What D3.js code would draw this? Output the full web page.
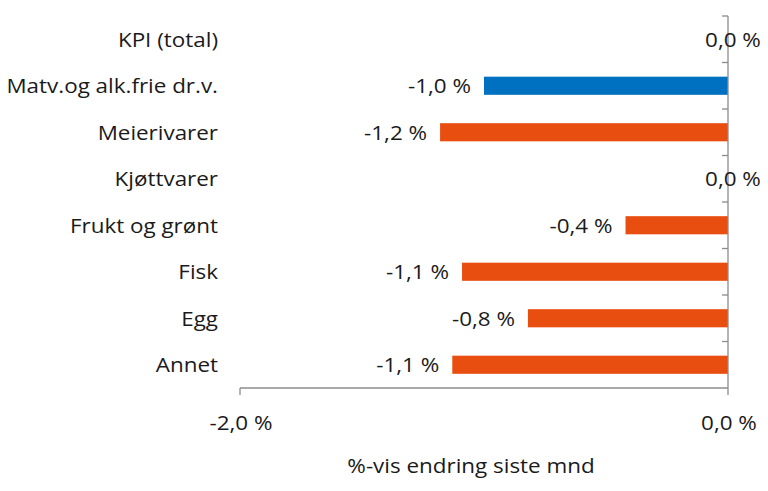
<!DOCTYPE html>
<html><head><meta charset="utf-8">
<script src="https://cdn.jsdelivr.net/npm/d3@7"></script>
<style>body{margin:0;background:#fff}svg{display:block}text{font-family:"Open Sans",sans-serif;fill:#1a1a1a}</style>
</head><body><div id="c"></div>
<script>
const categories = ["KPI (total)","Matv.og alk.frie dr.v.","Meierivarer","Kjøttvarer","Frukt og grønt","Fisk","Egg","Annet"];
const values = [0.0,-1.0,-1.18,0.0,-0.42,-1.09,-0.82,-1.13];
const valueLabels = ["0,0 %","-1,0 %","-1,2 %","0,0 %","-0,4 %","-1,1 %","-0,8 %","-1,1 %"];
const highlight = [false,true,false,false,false,false,false,false];
const xTicks = [-2,0];
const xTickLabels = ["-2,0 %","0,0 %"];
const axisTitle = "%-vis endring siste mnd";

const W=768,H=491;
const svg=d3.select("#c").append("svg").attr("width",W).attr("height",H);
const x=d3.scaleLinear().domain([-2,0]).range([240,728]);
const y=d3.scaleBand().domain(categories).range([16,388]).paddingInner(0.61).paddingOuter(0.305);
const step=y.step();
const axisColor="#8c8c8c";
const FS=19.5, SX=1.15;

function label(px,py,anchor,txt,fs){
  return svg.append("text").attr("transform",`translate(${px},${py}) scale(${SX},1)`)
    .attr("text-anchor",anchor).attr("font-size",fs||FS).text(txt);
}

svg.selectAll("rect.bar").data(categories).enter().append("rect")
  .attr("x",(d,i)=>x(Math.min(0,values[i])))
  .attr("y",d=>y(d))
  .attr("width",(d,i)=>Math.abs(x(values[i])-x(0)))
  .attr("height",y.bandwidth())
  .attr("fill",(d,i)=>highlight[i]?"#0070C0":"#E84E0F");

svg.append("line").attr("x1",x(0)).attr("x2",x(0)).attr("y1",16).attr("y2",388).attr("stroke",axisColor).attr("stroke-width",1.3);
d3.range(categories.length).forEach(i=>{
  const yy=16+i*step;
  svg.append("line").attr("x1",x(0)-6).attr("x2",x(0)).attr("y1",yy).attr("y2",yy).attr("stroke",axisColor).attr("stroke-width",1.3);
});

svg.append("line").attr("x1",x(-2)).attr("x2",x(0)).attr("y1",388).attr("y2",388).attr("stroke",axisColor).attr("stroke-width",1.3);
xTicks.forEach((t,i)=>{
  svg.append("line").attr("x1",x(t)).attr("x2",x(t)).attr("y1",388).attr("y2",395).attr("stroke",axisColor).attr("stroke-width",1.3);
  label(x(t)+1,430,"middle",xTickLabels[i]);
});

categories.forEach((c,i)=>{
  const cy=y(c)+y.bandwidth()/2+7.5;
  label(218,cy,"end",c);
  if(values[i]<0) label(x(values[i])-13,cy,"end",valueLabels[i]);
  else label(x(0)+5,cy,"middle",valueLabels[i]);
});

label(471,473,"middle",axisTitle);
</script></body></html>
